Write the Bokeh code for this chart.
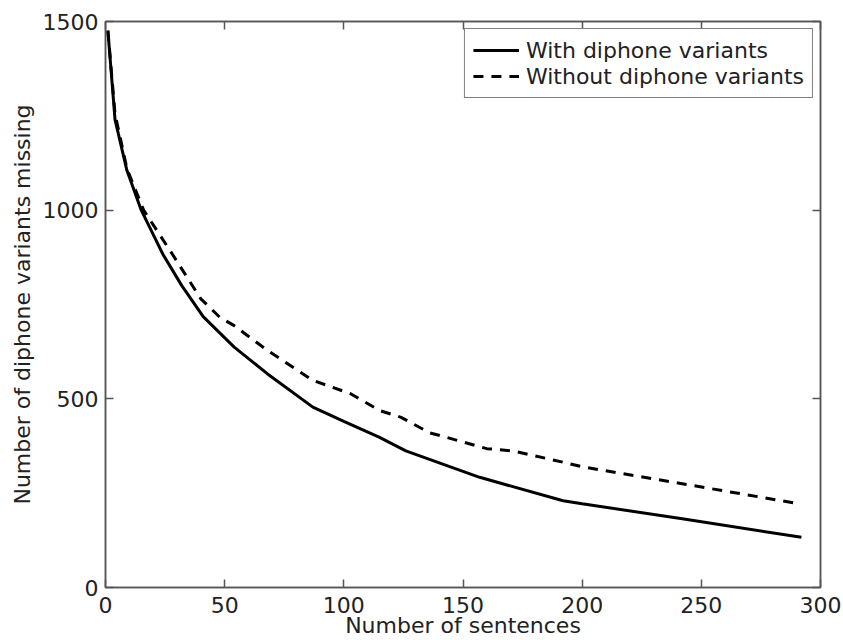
from bokeh.plotting import figure
from bokeh.models import Range1d, LinearAxis, FixedTicker, Legend, LegendItem
from bokeh.embed import file_html
from bokeh.resources import INLINE

# ---- data ----
with_x = [1, 4, 9, 15, 24, 32, 41, 54, 68, 87, 100, 115, 126, 157, 192, 200, 242, 292]
with_y = [1476, 1240, 1105, 1000, 884, 800, 718, 637, 566, 478, 440, 398, 362, 292, 230, 222, 182, 133]

without_x = [1, 4, 9, 16, 28, 40, 48, 54, 68, 87, 103, 115, 124, 136, 143, 160, 171, 192, 200, 242, 291]
without_y = [1476, 1255, 1110, 1000, 884, 765, 716, 694, 628, 549, 513, 469, 451, 410, 398, 368, 362, 332, 320, 275, 222]

x_ticks = [0, 50, 100, 150, 200, 250, 300]
y_ticks = [0, 500, 1000, 1500]

series_labels = ["With diphone variants", "Without diphone variants"]
x_label = "Number of sentences"
y_label = "Number of diphone variants missing"

FONT = "DejaVu Sans"
FS = "22px"
AXC = "#555555"
TXT = "#222222"

p = figure(width=843, height=640, output_backend="svg", toolbar_location=None,
           x_range=Range1d(0, 300), y_range=Range1d(0, 1500),
           min_border_left=105, min_border_right=23, min_border_top=21, min_border_bottom=53)
p.grid.visible = False
p.outline_line_color = AXC
p.outline_line_width = 1.5
p.background_fill_color = "white"
p.border_fill_color = "white"

for ax in [p.xaxis[0], p.yaxis[0]]:
    ax.axis_line_color = AXC
    ax.axis_line_width = 1.5
    ax.major_tick_line_color = AXC
    ax.major_tick_line_width = 1.5
    ax.major_tick_in = 8
    ax.major_tick_out = 0
    ax.minor_tick_line_color = None
    ax.major_label_text_font = FONT
    ax.major_label_text_font_size = FS
    ax.major_label_text_color = TXT
    ax.axis_label_text_font = FONT
    ax.axis_label_text_font_size = FS
    ax.axis_label_text_font_style = "normal"
    ax.axis_label_text_color = TXT

p.xaxis[0].ticker = FixedTicker(ticks=x_ticks)
p.yaxis[0].ticker = FixedTicker(ticks=y_ticks)
p.xaxis[0].axis_label = x_label
p.yaxis[0].axis_label = y_label
p.xaxis[0].major_label_standoff = 9
p.xaxis[0].axis_label_standoff = -3
p.yaxis[0].major_label_standoff = 7
p.yaxis[0].axis_label_standoff = 5

# mirrored ticks on top and right
top = LinearAxis(ticker=FixedTicker(ticks=x_ticks))
right = LinearAxis(ticker=FixedTicker(ticks=y_ticks))
for ax in [top, right]:
    ax.axis_line_color = AXC
    ax.axis_line_width = 1.5
    ax.major_tick_line_color = AXC
    ax.major_tick_line_width = 1.5
    ax.major_tick_in = 8
    ax.major_tick_out = 0
    ax.minor_tick_line_color = None
    ax.major_label_text_font_size = "0px"
    ax.major_label_text_alpha = 0
    ax.major_label_standoff = 0
p.add_layout(top, "above")
p.add_layout(right, "right")

r1 = p.line(with_x, with_y, line_color="black", line_width=3)
r2 = p.line(without_x, without_y, line_color="black", line_width=3, line_dash="10 8")

legend = Legend(items=[LegendItem(label=series_labels[0], renderers=[r1]),
                       LegendItem(label=series_labels[1], renderers=[r2])],
                location="top_right")
legend.margin = 7
legend.padding = 8
legend.spacing = 0
legend.glyph_width = 46
legend.glyph_height = 26
legend.label_height = 26
legend.label_standoff = 7
legend.label_text_font = FONT
legend.label_text_font_size = FS
legend.label_text_color = TXT
legend.border_line_color = "black"
legend.border_line_width = 1
legend.background_fill_alpha = 1
p.add_layout(legend)

open("out.html", "w").write(file_html(p, INLINE))
